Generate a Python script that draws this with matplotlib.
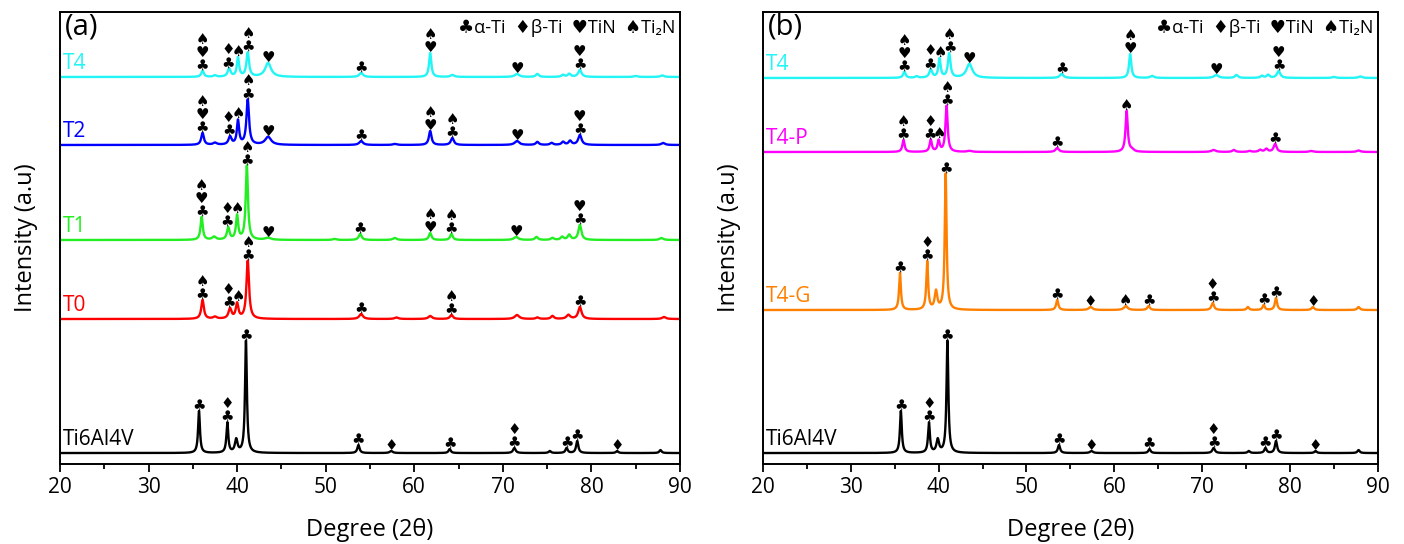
import matplotlib.pyplot as plt
import numpy as np
from matplotlib.ticker import MultipleLocator

plt.rcParams['font.family'] = ['Open Sans', 'DejaVu Sans']

# peak lists: position (deg), height (a.u.), FWHM (deg)
t4_pos = [36.1, 37.5, 39.1, 40.1, 41.2, 43.5, 54.0, 61.8, 64.3, 71.6, 73.9, 76.8, 77.5, 78.7, 85.0, 88.0]
t4_int = [6, 1.5, 8, 19, 24, 14, 4, 24, 2, 3, 3, 2, 3, 7, 1, 1.5]
t4_wid = [0.35, 0.4, 0.4, 0.3, 0.35, 0.8, 0.5, 0.3, 0.5, 0.6, 0.4, 0.4, 0.4, 0.45, 0.5, 0.5]

t2_pos = [36.1, 37.5, 39.2, 40.1, 41.2, 43.5, 54.0, 57.8, 61.8, 64.3, 71.6, 73.9, 75.5, 76.8, 77.6, 78.7, 88.1]
t2_int = [12, 2, 8, 24, 45, 8, 4, 1, 14, 7, 4, 3, 2, 3, 4, 10, 2]
t2_wid = [0.35, 0.5, 0.4, 0.3, 0.35, 0.8, 0.5, 0.5, 0.35, 0.4, 0.6, 0.4, 0.4, 0.4, 0.4, 0.45, 0.5]

t1_pos = [36.0, 37.4, 39.0, 40.0, 41.1, 43.5, 51.0, 53.9, 57.8, 61.8, 64.2, 71.5, 73.8, 75.6, 76.7, 77.5, 78.7, 87.9]
t1_int = [23, 3, 12, 24, 74, 2, 1, 6, 2, 7, 6, 3, 3, 2, 3, 5, 15, 2]
t1_wid = [0.3, 0.5, 0.35, 0.3, 0.3, 0.8, 0.5, 0.4, 0.5, 0.35, 0.35, 0.6, 0.4, 0.4, 0.4, 0.4, 0.4, 0.5]

t0_pos = [36.1, 37.5, 39.2, 40.0, 41.2, 54.0, 58.0, 61.8, 64.2, 71.6, 73.9, 75.6, 77.4, 78.7, 88.2]
t0_int = [19, 2, 10, 15, 58, 5, 1.5, 3, 4, 4, 1.5, 3, 4, 12, 2]
t0_wid = [0.35, 0.5, 0.4, 0.35, 0.35, 0.5, 0.5, 0.5, 0.4, 0.6, 0.4, 0.4, 0.5, 0.45, 0.5]

ti_pos = [35.7, 38.9, 39.9, 41.0, 53.7, 57.4, 64.0, 71.3, 75.3, 77.2, 78.4, 82.9, 87.8]
ti_int = [42, 30, 13, 112, 8, 2, 4, 5, 2, 5, 12, 2, 3]
ti_wid = [0.25, 0.25, 0.35, 0.25, 0.3, 0.4, 0.3, 0.35, 0.3, 0.3, 0.3, 0.3, 0.3]

tp_pos = [36.0, 39.1, 40.0, 40.9, 43.5, 53.5, 61.4, 62.0, 71.3, 73.6, 75.4, 76.6, 77.3, 78.3, 82.4, 87.8]
tp_int = [12, 12, 11, 46, 1, 4, 41, 2, 2, 2, 1, 2, 3, 8, 1, 1.5]
tp_wid = [0.3, 0.3, 0.3, 0.3, 0.6, 0.45, 0.3, 0.5, 0.6, 0.4, 0.4, 0.4, 0.4, 0.4, 0.5, 0.5]

tg_pos = [35.6, 38.7, 39.7, 40.8, 53.5, 57.3, 61.3, 63.9, 71.2, 75.2, 77.0, 78.4, 82.6, 87.8]
tg_int = [37, 48, 18, 136, 10, 3, 4, 4, 7, 3, 5, 12, 3, 3]
tg_wid = [0.25, 0.25, 0.35, 0.25, 0.3, 0.5, 0.5, 0.35, 0.35, 0.3, 0.3, 0.3, 0.35, 0.35]

# phase marks (symbols top to bottom) for each pattern
t4_marks = [(36.1, '♠\n♥\n♣'), (39.0, '♦\n♣'), (40.15, '♠'), (41.25, '♠\n♣'), (43.5, '♥'),
            (54.0, '♣'), (61.8, '♠\n♥'), (71.6, '♥'), (78.7, '♥\n♣')]
t2_marks = [(36.1, '♠\n♥\n♣'), (39.05, '♦\n♣'), (40.15, '♠'), (41.25, '♠\n♣'), (43.5, '♥'),
            (54.0, '♣'), (61.8, '♠\n♥'), (64.3, '♠\n♣'), (71.6, '♥'), (78.7, '♥\n♣')]
t1_marks = [(36.0, '♠\n♥\n♣'), (38.9, '♦\n♣'), (40.0, '♠'), (41.15, '♠\n♣'), (43.5, '♥'),
            (53.9, '♣'), (61.8, '♠\n♥'), (64.2, '♠\n♣'), (71.5, '♥'), (78.7, '♥\n♣')]
t0_marks = [(36.1, '♠\n♣'), (39.05, '♦\n♣'), (40.1, '♠'), (41.25, '♠\n♣'), (54.0, '♣'),
            (64.2, '♠\n♣'), (78.7, '♣')]
ti_marks = [(35.7, '♣'), (38.9, '♦\n♣'), (41.0, '♣'), (53.7, '♣'), (57.4, '♦'), (64.0, '♣'),
            (71.3, '♦\n♣'), (77.2, '♣'), (78.4, '♣'), (82.9, '♦')]
tp_marks = [(36.0, '♠\n♣'), (39.0, '♦\n♣'), (40.05, '♠'), (40.95, '♠\n♣'), (53.5, '♣'),
            (61.4, '♠'), (78.3, '♣')]
tg_marks = [(35.6, '♣'), (38.7, '♦\n♣'), (40.8, '♣'), (53.5, '♣'), (57.3, '♦'), (61.3, '♠'),
            (63.9, '♣'), (71.2, '♦\n♣'), (77.0, '♣'), (78.4, '♣'), (82.6, '♦')]

left_names = ['T4', 'T2', 'T1', 'T0', 'Ti6Al4V']
left_offsets = [387, 319, 224, 145, 11]
right_names = ['T4', 'T4-P', 'T4-G', 'Ti6Al4V']
right_offsets = [386, 312, 154, 11]

x = np.linspace(20, 90, 3501)


def pattern(pos, inten, wid):
    y = np.zeros_like(x)
    for c, h, w in zip(pos, inten, wid):
        y += h / (1 + ((x - c) / (w / 2)) ** 2)
    return y


def draw(ax, peaks, names, offsets, colors, marks, tag):
    for (pos, inten, wid), name, off, col, mk in zip(peaks, names, offsets, colors, marks):
        y = pattern(pos, inten, wid) + off
        ax.plot(x, y, color=col, lw=1.7)
        ax.text(20.3, off + 3, name, color=col, fontsize=15, ha='left', va='bottom')
        for p, s in mk:
            top = np.interp(p, x, y).max()
            top = max(top, y[np.abs(x - p) < 0.2].max())
            ax.annotate(s, (p, top), xytext=(0, -1.5), textcoords='offset points',
                        ha='center', va='bottom', fontsize=10.8, linespacing=0.82,
                        family='DejaVu Sans')
    ax.set_xlim(20, 90)
    ax.set_ylim(0, 452)
    ax.set_yticks([])
    ax.xaxis.set_major_locator(MultipleLocator(10))
    ax.xaxis.set_minor_locator(MultipleLocator(5))
    ax.tick_params(axis='x', which='major', direction='out', length=6, width=1.3, labelsize=15)
    ax.tick_params(axis='x', which='minor', direction='out', length=3.5, width=1.3)
    for sp in ax.spines.values():
        sp.set_linewidth(1.4)
    ax.set_xlabel('Degree (2θ)', fontsize=17, labelpad=14)
    ax.set_ylabel('Intensity (a.u)', fontsize=17, labelpad=16)
    ax.text(20.6, 437, tag, fontsize=21, ha='left', va='center')
    ax.text(89.5, 436, '♣α-Ti  ♦β-Ti  ♥TiN  ♠Ti₂N', fontsize=13, ha='right', va='center')


fig = plt.figure(figsize=(14.04, 5.44), dpi=100)
ax1 = fig.add_axes([0.0427, 0.147, 0.4416, 0.831])
ax2 = fig.add_axes([0.5434, 0.147, 0.438, 0.831])

draw(ax1,
     [(t4_pos, t4_int, t4_wid), (t2_pos, t2_int, t2_wid), (t1_pos, t1_int, t1_wid),
      (t0_pos, t0_int, t0_wid), (ti_pos, ti_int, ti_wid)],
     left_names, left_offsets,
     ['#22F5F5', '#0000FF', '#22EE22', '#FF0000', '#000000'],
     [t4_marks, t2_marks, t1_marks, t0_marks, ti_marks], '(a)')

draw(ax2,
     [(t4_pos, t4_int, t4_wid), (tp_pos, tp_int, tp_wid), (tg_pos, tg_int, tg_wid),
      (ti_pos, ti_int, ti_wid)],
     right_names, right_offsets,
     ['#22F5F5', '#FF00FF', '#FF8000', '#000000'],
     [t4_marks, tp_marks, tg_marks, ti_marks], '(b)')

fig.savefig('out.png', dpi=100)
